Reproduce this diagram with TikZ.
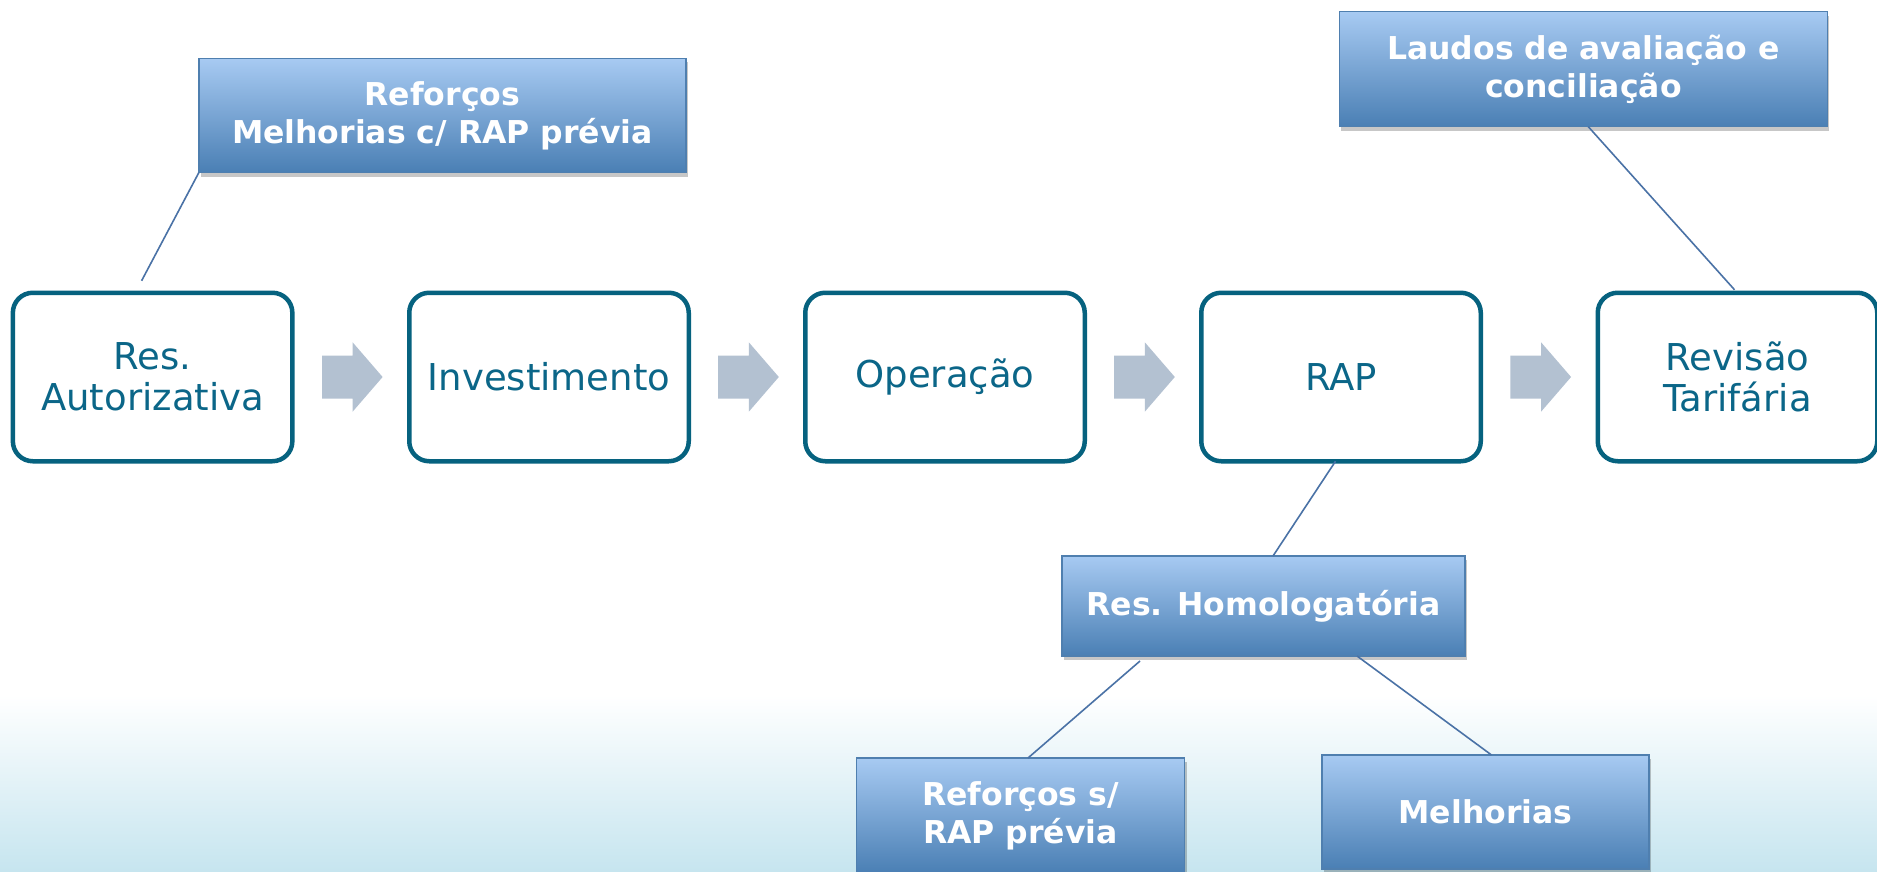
\documentclass[tikz,border=0pt]{standalone}
\usepackage{fontspec}
\setmainfont{DejaVu Sans}
\usetikzlibrary{shadows,calc}
\definecolor{stepborder}{HTML}{06627F}
\definecolor{steptext}{HTML}{0B6688}
\definecolor{arrowgray}{HTML}{B3C1D1}
\definecolor{bluetop}{HTML}{A7CAF2}
\definecolor{bluebot}{HTML}{4A7FB4}
\definecolor{blueedge}{HTML}{4F7FAF}
\definecolor{linkblue}{HTML}{4A72A6}
\definecolor{bgbot}{HTML}{C6E5EF}
\begin{document}
\begin{tikzpicture}[x=1pt,y=-1pt,
 stepbox/.style={draw=stepborder, line width=4.5pt, rounded corners=20pt, fill=white,
   minimum width=279.5pt, minimum height=168.5pt, inner sep=0pt, outer sep=0pt,
   align=center, text=steptext, font=\fontsize{37}{41}\selectfont},
 infobox/.style={draw=blueedge, line width=1.5pt, top color=bluetop, bottom color=bluebot,
   align=center, text=white, font=\bfseries\fontsize{31.5}{38}\selectfont,
   inner sep=0pt, outer sep=0pt,
   drop shadow={shadow xshift=2pt, shadow yshift=-4pt, fill=black, opacity=0.22}},
 link/.style={draw=linkblue, line width=1.6pt},
 flowarrow/.style={fill=arrowgray, draw=none}]

\fill[white] (0,0) rectangle (1877,872);
\shade[top color=white, bottom color=bgbot] (0,695) rectangle (1877,872);
\useasboundingbox (0,0) rectangle (1877,872);

\node[stepbox] (r1) at (152.6,377) {Res.\\Autorizativa};
\node[stepbox] (r2) at (549,377) {Investimento};
\node[stepbox] (r3) at (945,377) {Operação};
\node[stepbox] (r4) at (1341,377) {RAP};
\node[stepbox] (r5) at (1737.5,377) {Revisão\\Tarifária};

\foreach \a/\b in {r1/r2, r2/r3, r3/r4, r4/r5} {
  \coordinate (mid) at ($(\a.east)!0.5!(\b.west)$);
  \begin{scope}[shift={(mid)}]
    \fill[flowarrow] (-28.8,-21.5) -- (1.9,-21.5) -- (1.9,-34.6) -- (31.8,0)
      -- (1.9,34.6) -- (1.9,21.5) -- (-28.8,21.5) -- cycle;
  \end{scope}
}

\node[infobox, minimum width=487pt, minimum height=114pt] (a) at (442.4,115.5)
  {Reforços\\Melhorias c/ RAP prévia};
\node[infobox, minimum width=488pt, minimum height=115pt] (l) at (1583.3,69.2)
  {Laudos de avaliação e\\conciliação};
\node[infobox, minimum width=403pt, minimum height=100pt] (h) at (1263.5,606)
  {Res. Homologatória};
\node[infobox, minimum width=328pt, minimum height=115pt] (s) at (1020.5,815.5)
  {Reforços s/\\RAP prévia};
\node[infobox, minimum width=327pt, minimum height=114pt] (mel) at (1485.5,812)
  {Melhorias};

\draw[link] (a.south west) -- ([xshift=-11pt,yshift=12pt]r1.north);
\draw[link] ([xshift=5pt]l.south) -- ([xshift=-3pt,yshift=3pt]r5.north);
\draw[link] ([xshift=-5.5pt]r4.south) -- ([xshift=9.5pt]h.north);
\draw[link] ([xshift=-123.5pt,yshift=-5pt]h.south) -- ([xshift=7.5pt]s.north);
\draw[link] ([xshift=93.5pt]h.south) -- ([xshift=6pt]mel.north);
\end{tikzpicture}
\end{document}
